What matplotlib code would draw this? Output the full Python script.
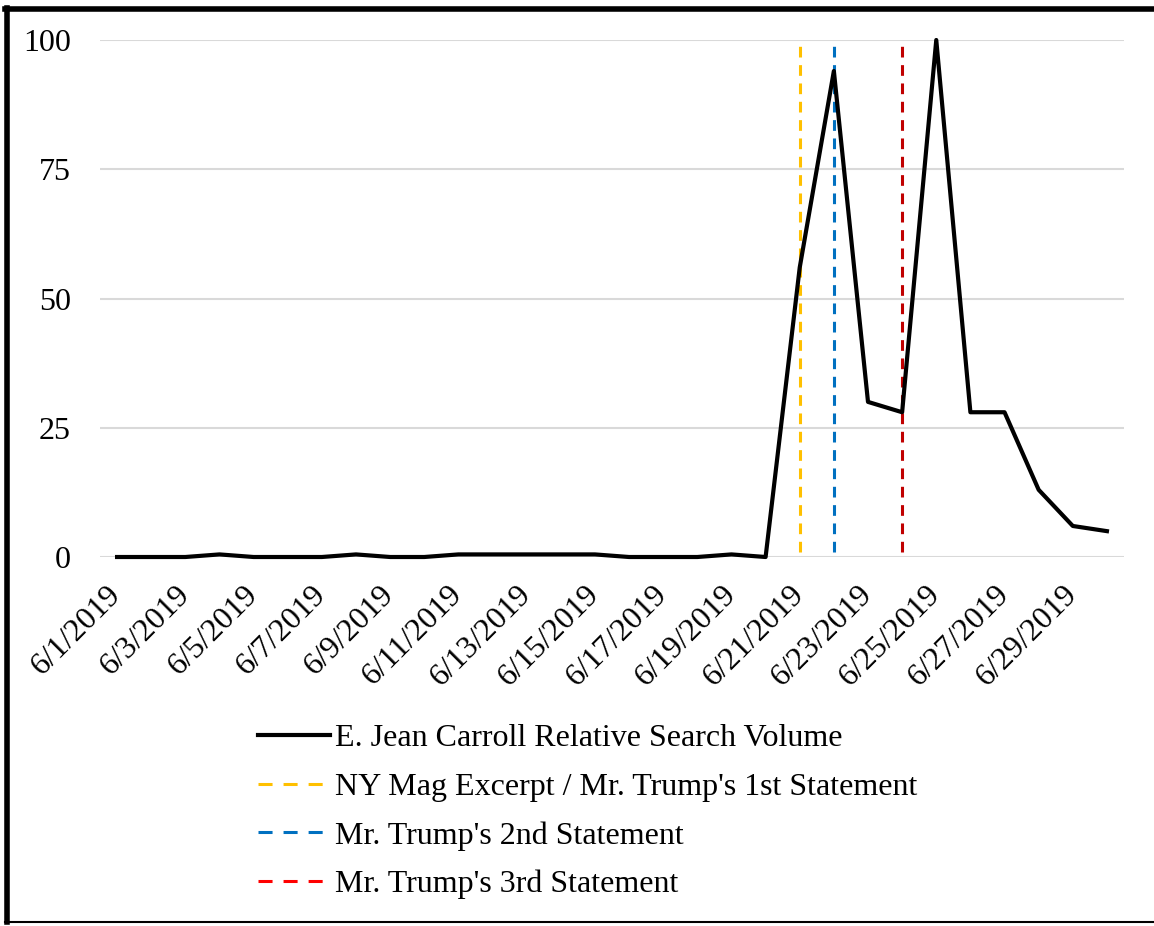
import matplotlib
matplotlib.use("Agg")
import matplotlib.pyplot as plt
from matplotlib.lines import Line2D
import numpy as np

plt.rcParams["font.family"] = ["Liberation Serif", "DejaVu Serif"]

dates = [f"6/{d}/2019" for d in range(1, 31)]
search_volume = [0, 0, 0, 0.5, 0, 0, 0, 0.5, 0, 0,
                 0.5, 0.5, 0.5, 0.5, 0.5, 0, 0, 0, 0.5, 0,
                 56, 94, 30, 28, 100, 28, 28, 13, 6, 5]

events = ["6/21/2019", "6/22/2019", "6/24/2019"]
event_labels = ["NY Mag Excerpt / Mr. Trump's 1st Statement",
                "Mr. Trump's 2nd Statement",
                "Mr. Trump's 3rd Statement"]
event_colors = ["#FFC000", "#0070C0", "#C00000"]
legend_colors = ["#FFC000", "#0070C0", "#FF0000"]

W, H = 1154, 926
fig = plt.figure(figsize=(W / 100, H / 100), dpi=100)
ax = fig.add_axes([100 / W, 1 - 557 / H, 1024 / W, 517 / H])

x = np.arange(len(dates))
ax.plot(x, search_volume, color="black", lw=3, clip_on=False, zorder=3)

for d, c in zip(events, event_colors):
    i = dates.index(d)
    ax.plot([i, i], [1, 99], color=c, lw=2.2, dashes=(3.5, 2.5), zorder=2)

ax.set_xlim(-0.5, len(dates) - 0.5)
ax.set_ylim(0, 100)
ax.set_yticks([0, 25, 50, 75, 100])
ax.set_xticks(x[::2])
ax.set_xticklabels(dates[::2], rotation=45, ha="right", va="center",
                   rotation_mode="anchor")
ax.tick_params(axis="both", length=0, labelsize=23)
ax.tick_params(axis="x", pad=24)
ax.tick_params(axis="y", pad=21)
ax.grid(axis="y", color="#D9D9D9", lw=1.5)
ax.set_axisbelow(True)
for s in ax.spines.values():
    s.set_visible(False)

handles = [Line2D([], [], color="black", lw=3)]
for c in legend_colors:
    handles.append(Line2D([], [], color=c, lw=2.2, dashes=(4.6, 3.6)))
labels = ["E. Jean Carroll Relative Search Volume"] + event_labels
fig.legend(handles, labels, loc="upper left",
           bbox_to_anchor=(258 / W, 1 - 724 / H), frameon=False,
           fontsize=23, handlelength=2.25, handletextpad=0.15,
           labelspacing=0.6, borderpad=0, borderaxespad=0)

# outer frame (left, top, bottom)
fig.add_artist(Line2D([7 / W, 7 / W], [1 - 8 / H, 1 - 922 / H], color="black", lw=4,
                      transform=fig.transFigure))
fig.add_artist(Line2D([5 / W, 1], [1 - 9 / H, 1 - 9 / H], color="black", lw=4,
                      transform=fig.transFigure))
fig.add_artist(Line2D([5 / W, 1], [1 - 922 / H, 1 - 922 / H], color="black", lw=1.5,
                      transform=fig.transFigure))

fig.savefig("out.png", dpi=100)
